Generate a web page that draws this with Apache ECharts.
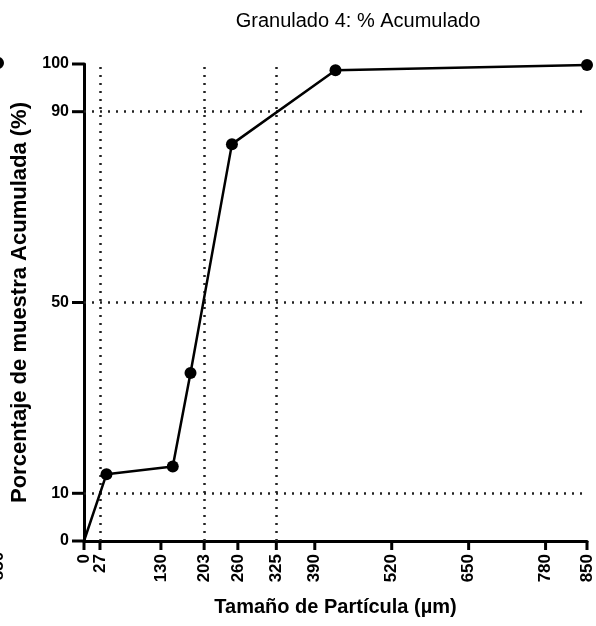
<!DOCTYPE html>
<html>
<head>
<meta charset="utf-8">
<script src="https://cdn.jsdelivr.net/npm/echarts@6/dist/echarts.min.js"></script>
<style>
html,body{margin:0;padding:0;background:#fff;}
#chart{width:596px;height:626px;}
</style>
</head>
<body>
<div id="chart"></div>
<script>
// Data
const sizes = [0, 38, 150, 180, 250, 425, 850];          // µm
const cumulative = [0, 14.0, 15.6, 35.2, 83.2, 98.7, 99.8]; // %
const xTicks = [0, 27, 130, 203, 260, 325, 390, 520, 650, 780, 850];
const yTicks = [0, 10, 50, 90, 100];
const refX = [27, 203, 325];   // d10, d50, d90
const refY = [10, 50, 90];

const FONT = 'Liberation Sans, Arial, sans-serif';
const chart = echarts.init(document.getElementById('chart'));

const markData = [];
refX.forEach(v => markData.push([{coord: [v, 0]}, {coord: [v, 100]}]));
refY.forEach(v => markData.push([{coord: [0, v]}, {coord: [850, v]}]));

// split labels over two overlaid axes so close labels (0 and 27) are both shown
const xLabelsA = xTicks.filter((v, i) => i !== 1);
const xLabelsB = xTicks.filter((v, i) => i === 1);
const xLabelStyle = {rotate: 90, margin: 13, fontFamily: FONT, fontSize: 17, fontWeight: 'bold', color: '#000',
                     hideOverlap: false, showMinLabel: true, showMaxLabel: true};

chart.setOption({
  animation: false,
  backgroundColor: '#fff',
  title: {
    text: 'Granulado 4: % Acumulado',
    left: 353, top: 6, textAlign: 'center',
    textStyle: {fontFamily: FONT, fontSize: 20, fontWeight: 'normal', color: '#000'}
  },
  grid: {left: 84, top: 64, width: 503, height: 477, containLabel: false},
  xAxis: [{
    type: 'value', min: 0, max: 850, position: 'bottom',
    name: 'Tamaño de Partícula (µm)', nameLocation: 'middle', nameGap: 56,
    nameTextStyle: {fontFamily: FONT, fontSize: 20, fontWeight: 'bold', color: '#000'},
    axisLine: {show: true, lineStyle: {color: '#000', width: 3}},
    axisTick: {show: false},
    axisLabel: Object.assign({customValues: xLabelsA}, xLabelStyle),
    splitLine: {show: false}
  }, {
    type: 'value', min: 0, max: 850, position: 'bottom', offset: 0,
    axisLine: {show: false},
    axisTick: {show: false},
    axisLabel: Object.assign({customValues: xLabelsB}, xLabelStyle),
    splitLine: {show: false}
  }],
  yAxis: {
    type: 'value', min: 0, max: 100,
    name: 'Porcentaje de muestra Acumulada (%)', nameLocation: 'middle', nameGap: 51,
    nameTextStyle: {fontFamily: FONT, fontSize: 22, fontWeight: 'bold', color: '#000'},
    axisLine: {show: true, lineStyle: {color: '#000', width: 3}},
    axisTick: {show: false},
    axisLabel: {margin: 15, fontFamily: FONT, fontSize: 16, fontWeight: 'bold', color: '#000',
                customValues: yTicks, hideOverlap: false, showMinLabel: true, showMaxLabel: true},
    splitLine: {show: false}
  },
  series: [{
    type: 'line',
    xAxisIndex: 0,
    data: sizes.map((s, i) => [s, cumulative[i]]),
    symbol: 'circle',
    symbolSize: (v, p) => p.dataIndex === 0 ? 0 : 12,
    lineStyle: {color: '#000', width: 2.5},
    itemStyle: {color: '#000'},
    clip: false,
    z: 5,
    markLine: {
      silent: true, symbol: 'none', label: {show: false},
      lineStyle: {color: '#222', width: 2.5, type: [2, 6]},
      data: markData
    }
  }]
});

// Tick marks placed through the library's own scale
const origin = chart.convertToPixel({xAxisIndex: 0, yAxisIndex: 0}, [0, 0]);
const ticks = [];
xTicks.forEach(v => {
  const p = chart.convertToPixel({xAxisIndex: 0, yAxisIndex: 0}, [v, 0]);
  ticks.push({type: 'line', shape: {x1: p[0], y1: origin[1], x2: p[0], y2: origin[1] + 9},
              style: {stroke: '#000', lineWidth: 3}, z: 10});
});
yTicks.forEach(v => {
  const p = chart.convertToPixel({xAxisIndex: 0, yAxisIndex: 0}, [0, v]);
  ticks.push({type: 'line', shape: {x1: origin[0] - 12, y1: p[1], x2: origin[0], y2: p[1]},
              style: {stroke: '#000', lineWidth: 3}, z: 10});
});
ticks.push({type: 'circle', shape: {cx: -2, cy: 63, r: 6}, style: {fill: '#000'}});
ticks.push({type: 'text', x: -2, y: 566, rotation: Math.PI / 2,
  style: {text: '850', fontFamily: FONT, fontSize: 17, fontWeight: 'bold', fill: '#000', align: 'center', verticalAlign: 'middle'}});
chart.setOption({graphic: ticks});
</script>
</body>
</html>
